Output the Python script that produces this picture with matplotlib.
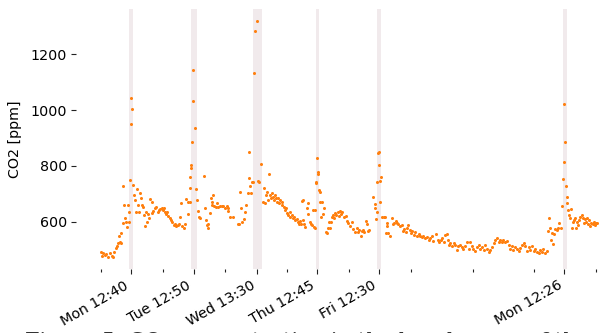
import matplotlib
matplotlib.use("Agg")
import matplotlib.pyplot as plt
import pandas as pd

# ---- data (hours since Monday 00:00, CO2 ppm) ----
start_day = "2023-01-02"  # a Monday
hours = [0.9, 1.2, 1.8, 2.5, 3.1, 3.8, 4.4, 5.1, 5.7, 6.1, 6.6, 7.0, 7.4, 7.9, 8.3, 8.7, 8.9, 9.3, 9.6, 10.0,
         10.2, 10.6, 11.0, 11.5, 11.9, 12.0, 12.2, 12.6, 12.7, 12.9, 13.4, 13.8, 14.1, 14.5, 15.1, 15.4, 15.8, 16.2,
         16.4, 16.7, 17.1, 17.5, 18.0, 18.4, 18.8, 19.0, 19.5, 20.0, 20.6, 20.8, 21.3, 21.9, 22.4, 22.9, 23.4, 23.9,
         24.4, 25.0, 25.3, 25.7, 26.1, 26.5, 27.0, 27.6, 28.1, 28.6, 29.1, 29.6, 30.1, 30.6, 31.2, 31.7, 31.9, 32.4,
         33.0, 33.5, 33.8, 34.5, 34.8, 35.3, 35.4, 35.5, 35.7, 35.9, 36.3, 36.6, 36.7, 37.5, 37.6, 38.0, 38.4, 38.9,
         39.3, 41.0, 41.2, 41.5, 41.9, 42.3, 42.5, 43.0, 43.6, 43.8, 44.0, 44.4, 44.8, 45.4, 45.9, 46.4, 47.0, 47.7,
         48.3, 49.0, 49.6, 50.0, 50.3, 50.9, 52.2, 53.9, 54.4, 54.9, 55.2, 55.7, 56.2, 56.7, 57.0, 57.8, 58.3, 58.4,
         58.7, 59.1, 59.3, 59.7, 60.3, 60.7, 61.3, 61.9, 62.3, 62.9, 63.8, 64.2, 64.5, 64.8, 65.1, 65.8, 66.0, 66.4,
         66.8, 67.1, 67.7, 68.1, 68.4, 68.8, 69.1, 69.6, 70.0, 70.4, 70.9, 71.2, 71.7, 72.2, 72.6, 73.0, 73.5, 74.0,
         74.3, 74.8, 75.3, 75.8, 76.2, 76.8, 77.2, 77.6, 78.0, 78.4, 78.7, 79.0, 79.3, 79.7, 80.0, 80.8, 81.1, 81.3,
         81.9, 82.3, 82.8, 83.2, 83.4, 83.7, 83.8, 84.1, 84.3, 84.6, 84.9, 85.1, 85.4, 85.7, 85.9, 86.3, 86.5, 87.0,
         87.5, 88.0, 88.5, 89.0, 89.4, 89.8, 90.1, 90.3, 90.7, 91.1, 91.6, 92.1, 92.6, 93.0, 93.4, 93.9, 94.4, 95.2,
         95.7, 96.1, 96.8, 97.4, 98.1, 98.7, 99.4, 100.0, 100.4, 100.9, 101.7, 102.0, 102.6, 103.0, 103.5, 103.9,
         104.3, 104.8, 106.4, 106.9, 107.2, 107.4, 107.9, 108.0, 108.3, 108.7, 108.8, 108.9, 109.2, 109.4, 109.9,
         110.7, 111.1, 111.5, 111.6, 111.9, 112.3, 112.9, 113.6, 114.0, 114.6, 115.1, 115.6, 116.1, 116.8, 117.5,
         118.0, 118.4, 119.0, 119.5, 120.0, 120.5, 121.0, 121.5, 122.1, 122.6, 123.3, 124.0, 124.5, 125.2, 125.8,
         126.5, 127.1, 127.8, 128.4, 129.1, 129.7, 130.7, 131.5, 131.9, 132.7, 133.2, 133.6, 134.2, 134.9, 135.3,
         135.8, 136.3, 136.8, 137.5, 138.1, 138.8, 139.4, 140.0, 140.7, 141.3, 141.9, 142.6, 143.3, 143.9, 144.6,
         145.2, 145.9, 146.5, 147.2, 147.8, 148.5, 149.1, 149.8, 150.4, 151.1, 151.7, 152.4, 153.0, 153.6, 154.3,
         154.9, 155.5, 156.2, 156.8, 157.5, 158.1, 158.8, 159.4, 160.1, 160.7, 161.4, 162.0, 162.7, 163.3, 164.0,
         164.6, 165.3, 165.9, 166.6, 167.2, 167.9, 168.5, 169.2, 169.8, 170.5, 171.0, 171.7, 172.3, 173.0, 173.6,
         174.0, 174.5, 174.8, 175.1, 175.5, 176.1, 176.5, 176.9, 177.4, 177.9, 178.5, 179.2, 179.6, 179.8, 180.1,
         180.4, 180.6, 181.1, 181.4, 181.6, 182.0, 182.3, 182.6, 183.0, 183.2, 183.6, 184.1, 184.5, 184.9, 185.4,
         185.8, 186.2, 186.6, 187.1, 187.5, 187.9, 188.4, 188.8, 189.3, 189.7, 190.0, 190.5, 190.9, 191.3, 191.7,
         192.2, 192.5, 193.0]
co2 = [494, 480, 488, 482, 485, 476, 488, 480, 473, 494, 506, 515, 524, 548, 530, 560, 524, 595, 729, 661,
       613, 601, 583, 661, 599, 634, 750, 951, 1043, 1003, 732, 696, 679, 637, 718, 661, 637, 702,
       687, 661, 655, 625, 586, 637, 601, 627, 613, 682, 673, 631, 639, 649, 655, 634, 643, 646,
       649, 643, 649, 634, 627, 637, 622, 613, 607, 599, 589, 594, 586, 589, 594, 619, 667, 586,
       580, 594, 682, 627, 673, 722, 673, 762, 803, 792, 885, 1032, 1144, 937, 718, 679, 639, 619,
       613, 765, 649, 607, 589, 580, 594, 631, 685, 661, 670, 696, 658, 655, 667, 655, 658, 658,
       658, 650, 658, 650, 639, 616, 616, 594, 591, 708, 650, 599, 610, 634, 661, 702, 756, 851,
       730, 702, 744, 742, 1133, 1283, 1318, 746, 742, 806, 673, 720, 667, 696, 708, 679, 771, 696,
       685, 702, 690, 679, 696, 685, 673, 685, 667, 679, 661, 670, 655, 643, 649, 631, 625, 634,
       619, 625, 613, 619, 607, 610, 601, 594, 603, 591, 675, 679, 607, 594, 583, 650, 627, 667,
       601, 594, 589, 643, 583, 580, 643, 738, 742, 827, 770, 778, 714, 708, 673, 619, 670, 627,
       649, 565, 560, 580, 601, 578, 601, 619, 625, 613, 631, 625, 637, 622, 639, 627, 634, 619,
       623, 604, 595, 586, 601, 575, 565, 578, 565, 571, 548, 568, 571, 565, 604, 592,
       568, 571, 688, 663, 649, 610, 635, 742, 848, 850, 804, 745, 673, 762, 616,
       619, 616, 560, 595, 586, 560, 551, 613, 592, 595, 604, 598, 592, 586, 589,
       568, 575, 563, 578, 589, 571, 560, 568, 554, 563, 551, 556, 548, 545, 548,
       541, 545, 536, 542, 548, 532, 556, 536, 530, 536, 542, 528, 553, 556, 536,
       518, 524, 513, 524, 516, 500, 513, 518, 510, 505, 513, 530, 505, 530, 513,
       505, 497, 510, 516, 505, 510, 500, 516, 505, 494, 500, 510, 524, 536, 542,
       530, 536, 530, 536, 528, 532, 516, 505, 513, 500, 510, 505, 497, 508, 516,
       524, 513, 497, 510, 500, 513, 497, 505, 494, 488, 500, 494, 505, 488, 497,
       568, 613, 580, 536, 560, 521, 556, 575, 571, 578, 595, 580, 657, 754, 813,
       1021, 885, 730, 690, 667, 643, 625, 613, 646, 580, 601, 607, 613, 580, 601,
       589, 607, 619, 625, 613, 598, 610, 601, 613, 592, 607, 586, 598, 592, 601,
       589, 595, 598]

span_starts = ["2023-01-02 11:55", "2023-01-03 11:50", "2023-01-04 11:45",
               "2023-01-05 12:05", "2023-01-06 11:55", "2023-01-09 11:58"]
span_ends = ["2023-01-02 13:20", "2023-01-03 14:00", "2023-01-04 15:25",
             "2023-01-05 13:25", "2023-01-06 13:18", "2023-01-09 13:14"]

major_ticks = ["2023-01-02 12:40", "2023-01-03 12:50", "2023-01-04 13:30",
               "2023-01-05 12:45", "2023-01-06 12:30", "2023-01-09 12:26"]
minor_ticks = ["2023-01-02 00:50", "2023-01-03 00:50", "2023-01-04 00:50",
               "2023-01-05 00:50", "2023-01-06 00:50", "2023-01-07 00:50",
               "2023-01-08 00:50", "2023-01-09 00:50", "2023-01-10 00:50"]
y_ticks = [600, 800, 1000, 1200]

caption = "Figure 5: CO\u2082 concentration in the break room of the office"

# ---- plot ----
times = pd.Timestamp(start_day) + pd.to_timedelta(hours, unit="h")

fig = plt.figure(figsize=(5.99, 3.33), dpi=100)
ax = fig.add_axes([0.1269, 0.1913, 0.911, 0.781])

for s, e in zip(span_starts, span_ends):
    ax.axvspan(pd.Timestamp(s), pd.Timestamp(e), color="#f1eaec", lw=0, zorder=0)

ax.plot(times, co2, linestyle="none", marker="o", markersize=2.2,
        color="#ff7f0e", markeredgewidth=0, zorder=3)

ax.margins(x=0.05, y=0.05)

for sp in ax.spines.values():
    sp.set_visible(False)

maj = pd.to_datetime(major_ticks)
ax.set_xticks(maj)
ax.set_xticklabels([t.strftime("%a %H:%M") for t in maj], rotation=30, ha="right",
                   fontsize=10.3)
ax.set_xticks(pd.to_datetime(minor_ticks), minor=True)
ax.set_yticks(y_ticks)
ax.set_yticklabels([str(v) for v in y_ticks], fontsize=10.3)
ax.tick_params(axis="both", which="both", length=3.5, width=0.8, color="#222222", pad=3)
ax.tick_params(axis="x", which="minor", length=2.5)
ax.set_ylabel("CO2 [ppm]", fontsize=10.3, labelpad=6)

fig.text(0.042, 0.004, caption, fontsize=15, family="DejaVu Serif", va="top", ha="left",
         color="#333333")

fig.savefig("out.png", dpi=100)
